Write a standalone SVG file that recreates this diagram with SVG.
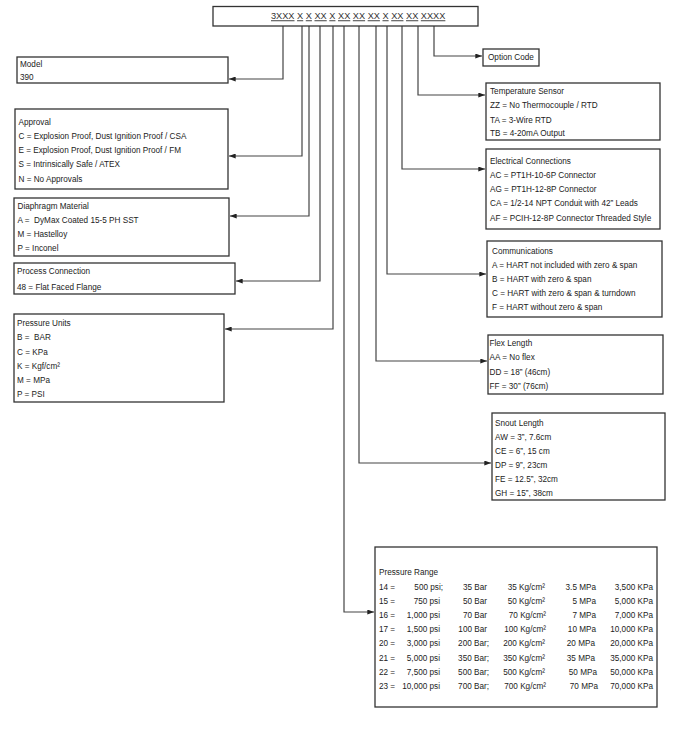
<svg xmlns="http://www.w3.org/2000/svg" width="690" height="732" viewBox="0 0 690 732">
<style>
.bg{fill:#fff}
.box{fill:#fff;stroke:#333;stroke-width:1.3}
.t{font-family:"Liberation Sans",Arial,sans-serif;font-size:9.3px;fill:#222}
.code{font-family:"Liberation Sans",Arial,sans-serif;font-size:9.2px;fill:#333}
.u{text-decoration:underline}
.c{fill:none;stroke:#444;stroke-width:1.2}
</style>
<defs>
<marker id="ah" viewBox="0 0 8 6" refX="8" refY="3" markerWidth="7" markerHeight="5" orient="auto" markerUnits="userSpaceOnUse">
<path d="M0,0 L8,3 L0,6 z" fill="#222"/>
</marker>
</defs>
<rect class="bg" x="0" y="0" width="690" height="732"/>

<g id="connectors">
<polyline class="c" points="283,26 283,79 229,79" marker-end="url(#ah)"/>
<polyline class="c" points="302,26 302,156 229,156" marker-end="url(#ah)"/>
<polyline class="c" points="309,26 309,216 230,216" marker-end="url(#ah)"/>
<polyline class="c" points="320,26 320,281 236,281" marker-end="url(#ah)"/>
<polyline class="c" points="333,26 333,329 225,329" marker-end="url(#ah)"/>
<polyline class="c" points="344,26 344,612 374,612" marker-end="url(#ah)"/>
<polyline class="c" points="359,26 359,463 491,463" marker-end="url(#ah)"/>
<polyline class="c" points="376,26 376,361 487,361" marker-end="url(#ah)"/>
<polyline class="c" points="387,26 387,274 486,274" marker-end="url(#ah)"/>
<polyline class="c" points="402,26 402,169 485,169" marker-end="url(#ah)"/>
<polyline class="c" points="418,26 418,95 485,95" marker-end="url(#ah)"/>
<polyline class="c" points="434,26 434,56 482,56" marker-end="url(#ah)"/>
</g>

<g id="code">
<rect class="box" x="213" y="6.5" width="265" height="19.5"/>
<text class="code" x="271" y="19.3"><tspan class="u">3XXX</tspan> <tspan class="u">X</tspan> <tspan class="u">X</tspan> <tspan class="u">XX</tspan> <tspan class="u">X</tspan> <tspan class="u">XX</tspan> <tspan class="u">XX</tspan> <tspan class="u">XX</tspan> <tspan class="u">X</tspan> <tspan class="u">XX</tspan> <tspan class="u">XX</tspan> <tspan class="u">XXXX</tspan></text>
</g>

<g id="model">
<rect class="box" x="17" y="57" width="211" height="26"/>
<g transform="translate(20 0) scale(.88 1)">
<text class="t" x="0" y="67">Model</text>
<text class="t" x="0" y="80.5">390</text>
</g>
</g>

<g id="approval">
<rect class="box" x="15" y="109" width="213" height="80"/>
<g transform="translate(18.5 0) scale(.88 1)">
<text class="t" x="0" y="125">Approval</text>
<text class="t" x="0" y="139">C = Explosion Proof, Dust Ignition Proof / CSA</text>
<text class="t" x="0" y="153.5">E = Explosion Proof, Dust Ignition Proof / FM</text>
<text class="t" x="0" y="167.5">S = Intrinsically Safe / ATEX</text>
<text class="t" x="0" y="182">N = No Approvals</text>
</g>
</g>

<g id="diaphragm">
<rect class="box" x="14" y="198" width="215" height="58"/>
<g transform="translate(17.5 0) scale(.88 1)">
<text class="t" x="0" y="209.5">Diaphragm Material</text>
<text class="t" x="0" y="223.5">A =&#160; DyMax Coated 15-5 PH SST</text>
<text class="t" x="0" y="237.5">M = Hastelloy</text>
<text class="t" x="0" y="251.5">P = Inconel</text>
</g>
</g>

<g id="process">
<rect class="box" x="14" y="263" width="221" height="31"/>
<g transform="translate(17 0) scale(.88 1)">
<text class="t" x="0" y="274.5">Process Connection</text>
<text class="t" x="0" y="290">48 = Flat Faced Flange</text>
</g>
</g>

<g id="units">
<rect class="box" x="14" y="314" width="210" height="88"/>
<g transform="translate(17 0) scale(.88 1)">
<text class="t" x="0" y="326.5">Pressure Units</text>
<text class="t" x="0" y="340.5">B =&#160; BAR</text>
<text class="t" x="0" y="355">C = KPa</text>
<text class="t" x="0" y="369.5">K = Kgf/cm²</text>
<text class="t" x="0" y="383.5">M = MPa</text>
<text class="t" x="0" y="397.5">P = PSI</text>
</g>
</g>

<g id="option">
<rect class="box" x="483" y="49" width="56" height="17"/>
<g transform="translate(488 0) scale(.88 1)">
<text class="t" x="0" y="60.5">Option Code</text>
</g>
</g>

<g id="temp">
<rect class="box" x="486" y="83" width="174" height="57"/>
<g transform="translate(490 0) scale(.88 1)">
<text class="t" x="0" y="94.5">Temperature Sensor</text>
<text class="t" x="0" y="108.5">ZZ = No Thermocouple / RTD</text>
<text class="t" x="0" y="123">TA = 3-Wire RTD</text>
<text class="t" x="0" y="136.5">TB = 4-20mA Output</text>
</g>
</g>

<g id="electrical">
<rect class="box" x="486" y="149" width="174" height="80"/>
<g transform="translate(490 0) scale(.88 1)">
<text class="t" x="0" y="164.5">Electrical Connections</text>
<text class="t" x="0" y="178.5">AC = PT1H-10-6P Connector</text>
<text class="t" x="0" y="192.5">AG = PT1H-12-8P Connector</text>
<text class="t" x="0" y="206.5">CA = 1/2-14 NPT Conduit with 42” Leads</text>
<text class="t" x="0" y="221">AF = PCIH-12-8P Connector Threaded Style</text>
</g>
</g>

<g id="comms">
<rect class="box" x="487" y="241" width="175" height="76"/>
<g transform="translate(492 0) scale(.88 1)">
<text class="t" x="0" y="254.5">Communications</text>
<text class="t" x="0" y="268.5">A = HART not included with zero &amp; span</text>
<text class="t" x="0" y="282.5">B = HART with zero &amp; span</text>
<text class="t" x="0" y="296.5">C = HART with zero &amp; span &amp; turndown</text>
<text class="t" x="0" y="310.5">F = HART without zero &amp; span</text>
</g>
</g>

<g id="flex">
<rect class="box" x="488" y="335" width="175" height="59"/>
<g transform="translate(489.5 0) scale(.88 1)">
<text class="t" x="0" y="346.5">Flex Length</text>
<text class="t" x="0" y="360.5">AA = No flex</text>
<text class="t" x="0" y="375">DD = 18” (46cm)</text>
<text class="t" x="0" y="389.5">FF = 30” (76cm)</text>
</g>
</g>

<g id="snout">
<rect class="box" x="492" y="413" width="173" height="87"/>
<g transform="translate(495 0) scale(.88 1)">
<text class="t" x="0" y="426.5">Snout Length</text>
<text class="t" x="0" y="440">AW = 3”, 7.6cm</text>
<text class="t" x="0" y="454.5">CE = 6”, 15 cm</text>
<text class="t" x="0" y="468">DP = 9”, 23cm</text>
<text class="t" x="0" y="482.5">FE = 12.5”, 32cm</text>
<text class="t" x="0" y="496.5">GH = 15”, 38cm</text>
</g>
</g>

<g id="range">
<rect class="box" x="375" y="547" width="282" height="160"/>
<g transform="scale(.88 1)" class="t">
<text class="t" x="430.7" y="575.5">Pressure Range</text>

<text class="t" x="430.7" y="589.7">14 =</text>
<text class="t" x="503.4" y="589.7" text-anchor="end">500 psi;</text>
<text class="t" x="553.4" y="589.7" text-anchor="end">35 Bar</text>
<text class="t" x="619.3" y="589.7" text-anchor="end">35 Kg/cm²</text>
<text class="t" x="677.3" y="589.7" text-anchor="end">3.5 MPa</text>
<text class="t" x="742" y="589.7" text-anchor="end">3,500 KPa</text>

<text class="t" x="430.7" y="603.9">15 =</text>
<text class="t" x="500" y="603.9" text-anchor="end">750 psi</text>
<text class="t" x="553.4" y="603.9" text-anchor="end">50 Bar</text>
<text class="t" x="619.3" y="603.9" text-anchor="end">50 Kg/cm²</text>
<text class="t" x="677.3" y="603.9" text-anchor="end">5 MPa</text>
<text class="t" x="742" y="603.9" text-anchor="end">5,000 KPa</text>

<text class="t" x="430.7" y="618.1">16 =</text>
<text class="t" x="500" y="618.1" text-anchor="end">1,000 psi</text>
<text class="t" x="553.4" y="618.1" text-anchor="end">70 Bar</text>
<text class="t" x="620.5" y="618.1" text-anchor="end">70 Kg/cm²</text>
<text class="t" x="677.3" y="618.1" text-anchor="end">7 MPa</text>
<text class="t" x="742" y="618.1" text-anchor="end">7,000 KPa</text>

<text class="t" x="430.7" y="632.3">17 =</text>
<text class="t" x="500" y="632.3" text-anchor="end">1,500 psi</text>
<text class="t" x="553.4" y="632.3" text-anchor="end">100 Bar</text>
<text class="t" x="620.5" y="632.3" text-anchor="end">100 Kg/cm²</text>
<text class="t" x="677.3" y="632.3" text-anchor="end">10 MPa</text>
<text class="t" x="742" y="632.3" text-anchor="end">10,000 KPa</text>

<text class="t" x="430.7" y="646.5">20 =</text>
<text class="t" x="500" y="646.5" text-anchor="end">3,000 psi</text>
<text class="t" x="555.7" y="646.5" text-anchor="end">200 Bar;</text>
<text class="t" x="619.3" y="646.5" text-anchor="end">200 Kg/cm²</text>
<text class="t" x="676.1" y="646.5" text-anchor="end">20 MPa</text>
<text class="t" x="742" y="646.5" text-anchor="end">20,000 KPa</text>

<text class="t" x="430.7" y="660.7">21 =</text>
<text class="t" x="500" y="660.7" text-anchor="end">5,000 psi</text>
<text class="t" x="555.7" y="660.7" text-anchor="end">350 Bar;</text>
<text class="t" x="619.3" y="660.7" text-anchor="end">350 Kg/cm²</text>
<text class="t" x="676.1" y="660.7" text-anchor="end">35 MPa</text>
<text class="t" x="742" y="660.7" text-anchor="end">35,000 KPa</text>

<text class="t" x="430.7" y="674.9">22 =</text>
<text class="t" x="500" y="674.9" text-anchor="end">7,500 psi</text>
<text class="t" x="555.7" y="674.9" text-anchor="end">500 Bar;</text>
<text class="t" x="619.3" y="674.9" text-anchor="end">500 Kg/cm²</text>
<text class="t" x="678.4" y="674.9" text-anchor="end">50 MPa</text>
<text class="t" x="742" y="674.9" text-anchor="end">50,000 KPa</text>

<text class="t" x="430.7" y="689.1">23 =</text>
<text class="t" x="500" y="689.1" text-anchor="end">10,000 psi</text>
<text class="t" x="555.7" y="689.1" text-anchor="end">700 Bar;</text>
<text class="t" x="620.5" y="689.1" text-anchor="end">700 Kg/cm²</text>
<text class="t" x="679.5" y="689.1" text-anchor="end">70 MPa</text>
<text class="t" x="742" y="689.1" text-anchor="end">70,000 KPa</text>
</g>
</g>
</svg>
